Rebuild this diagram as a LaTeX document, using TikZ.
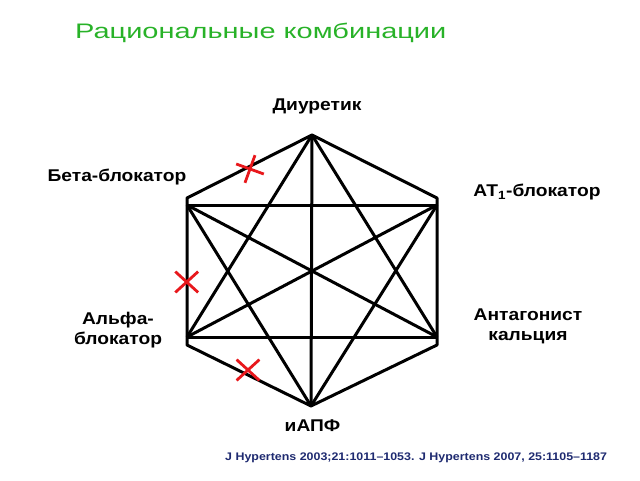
\documentclass[tikz,border=0pt]{standalone}
\usepackage{fontspec}
\setmainfont{Liberation Sans}
\newfontfamily\titlefont[FakeStretch=1.38]{Liberation Sans}
\newfontfamily\labelfont[FakeStretch=1.13]{Liberation Sans}
\usetikzlibrary{shapes.misc}
\definecolor{titlegreen}{RGB}{40,178,40}
\definecolor{refblue}{RGB}{30,42,112}
\definecolor{crossred}{RGB}{232,24,28}
\begin{document}
\begin{tikzpicture}[x=1pt,y=-1pt,
  edge/.style={draw,line width=3pt,line join=round},
  drug/.style={font=\labelfont\bfseries\fontsize{17}{20}\selectfont,align=center,inner sep=0pt},
  nogo/.style={cross out,draw=crossred,line width=2.8pt,inner sep=0pt}]
\useasboundingbox (0,0) rectangle (640,480);
\node[font=\titlefont\fontsize{21}{24}\selectfont,text=titlegreen,anchor=base west,inner sep=0pt] (title) at (75,38) {Рациональные комбинации};
\coordinate (diur) at (312,135);
\coordinate (beta) at (187,198);
\coordinate (at) at (437,198);
\coordinate (ca) at (437,345);
\coordinate (iapf) at (311,406);
\coordinate (alfa) at (187,345);
\coordinate (beta') at (187,205);
\coordinate (at') at (437,205);
\coordinate (ca') at (437,337);
\coordinate (alfa') at (187,337);
\path[edge] (diur) -- (at) -- (ca) -- (iapf) -- (alfa) -- (beta) -- cycle;
\path[edge] (beta') -- (at');
\path[edge] (alfa') -- (ca');
\path[edge] (diur) -- (iapf);
\path[edge] (diur) -- (alfa');
\path[edge] (diur) -- (ca');
\path[edge] (beta') -- (iapf);
\path[edge] (at') -- (iapf);
\path[edge] (beta') -- (ca');
\path[edge] (at') -- (alfa');
\node[drug,anchor=base] (ndiur) at (317,110) {Диуретик};
\node[drug,anchor=base] (nbeta) at (117,181.7) {Бета-блокатор};
\node[drug,anchor=base] (nat) at (537,196.7) {АТ\textsubscript{1}-блокатор};
\node[drug] (nca) at (528,326) {Антагонист\\кальция};
\node[drug] (nalfa) at (118,330) {Альфа-\\блокатор};
\node[drug,anchor=base] (niapf) at (312.5,431.7) {иАПФ};
\node[nogo,minimum size=18pt,rotate=25] (x1) at (250,169) {};
\node[nogo,minimum width=20pt,minimum height=18pt] (x2) at (186.7,282) {};
\node[nogo,minimum width=20pt,minimum height=18pt] (x3) at (248,370) {};
\node[font=\labelfont\bfseries\fontsize{11}{13}\selectfont,text=refblue,anchor=base west,inner sep=0pt] (ref) at (225,460.5) {J Hypertens 2003;21:1011–1053. J Hypertens 2007, 25:1105–1187};
\end{tikzpicture}
\end{document}
